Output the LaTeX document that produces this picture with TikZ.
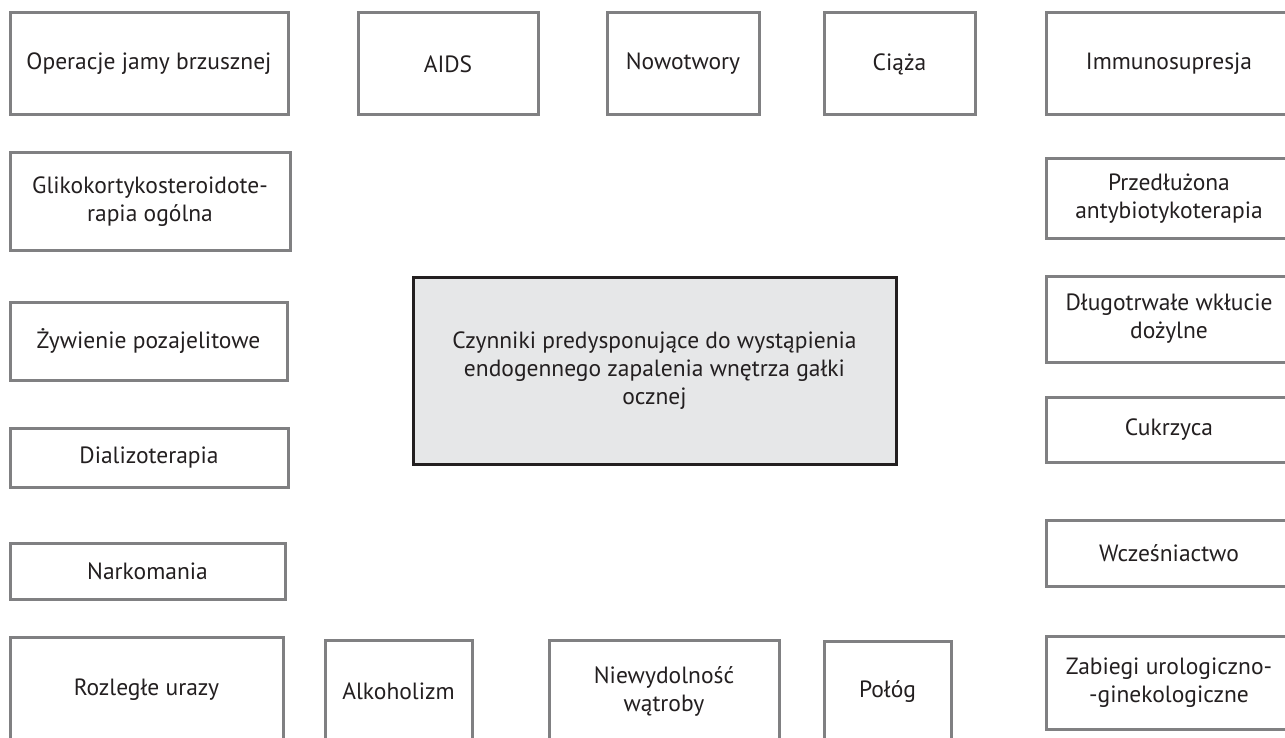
\documentclass[tikz,border=0pt]{standalone}
\usepackage{fontspec}
\setmainfont{PT Sans}
\usepackage{tikz}
\usetikzlibrary{positioning}

\definecolor{boxgray}{RGB}{128,128,130}
\definecolor{ink}{RGB}{35,31,32}
\definecolor{mainfill}{RGB}{230,231,232}

\tikzset{
  factor/.style={draw=boxgray, line width=3pt, fill=white, text=ink,
    align=center, inner sep=2pt, font=\fontsize{23.5}{28}\selectfont},
  mainbox/.style={factor, draw=ink, fill=mainfill}
}

\begin{document}
\begin{tikzpicture}[x=1pt, y=-1pt]
\useasboundingbox (0,0) rectangle (1285,738);
\clip (0,0) rectangle (1285,738);
%\draw[step=50pt, gray!30, very thin] (0,0) grid (1285,738);

% top row
\node[factor, minimum width=278pt, minimum height=102pt] (ops) at (149,64) {Operacje jamy brzusznej};
\node[factor, minimum width=180pt, minimum height=102pt] (aids) at (448,64) {AIDS};
\node[factor, minimum width=152pt, minimum height=102pt] (nowo) at (683,64) {Nowotwory};
\node[factor, minimum width=151pt, minimum height=102pt] (ciaza) at (899.5,64) {Ciąża};
\node[factor, minimum width=246pt, minimum height=102pt] (immuno) at (1169,64) {Immunosupresja};

% left column
\node[factor, minimum width=280pt, minimum height=97pt] (gliko) at (150,201.5) {Glikokortykosteroidote-\\rapia ogólna};
\node[factor, minimum width=277pt, minimum height=78pt] (zyw) at (148.5,341) {Żywienie pozajelitowe};
\node[factor, minimum width=278pt, minimum height=59pt] (dializ) at (149,457.5) {Dializoterapia};
\node[factor, minimum width=275pt, minimum height=56pt] (narko) at (147.5,571) {Narkomania};

% bottom row
\node[factor, minimum width=273pt, minimum height=105pt] (rozl) at (146.5,689.5) {Rozległe urazy};
\node[factor, minimum width=147pt, minimum height=102pt] (alko) at (398.5,691) {Alkoholizm};
\node[factor, minimum width=230pt, minimum height=102pt] (niew) at (664,691) {Niewydolność\\wątroby};
\node[factor, minimum width=127pt, minimum height=101pt] (polog) at (887.5,691.5) {Połóg};

% right column
\node[factor, minimum width=246pt, minimum height=80pt] (przed) at (1169,199) {Przedłużona\\antybiotykoterapia};
\node[factor, minimum width=246pt, minimum height=86pt] (dlug) at (1169,319) {Długotrwałe wkłucie\\dożylne};
\node[factor, minimum width=246pt, minimum height=65pt] (cukr) at (1169,429.5) {Cukrzyca};
\node[factor, minimum width=246pt, minimum height=66pt] (wczes) at (1169,553) {Wcześniactwo};
\node[factor, minimum width=246pt, minimum height=93pt] (zabieg) at (1169,682.5) {Zabiegi urologiczno-\\-ginekologiczne};

% centre
\node[mainbox, minimum width=483pt, minimum height=187pt] (main) at (654.5,370.5)
  {Czynniki predysponujące do wystąpienia\\endogennego zapalenia wnętrza gałki\\ocznej};
\end{tikzpicture}
\end{document}
